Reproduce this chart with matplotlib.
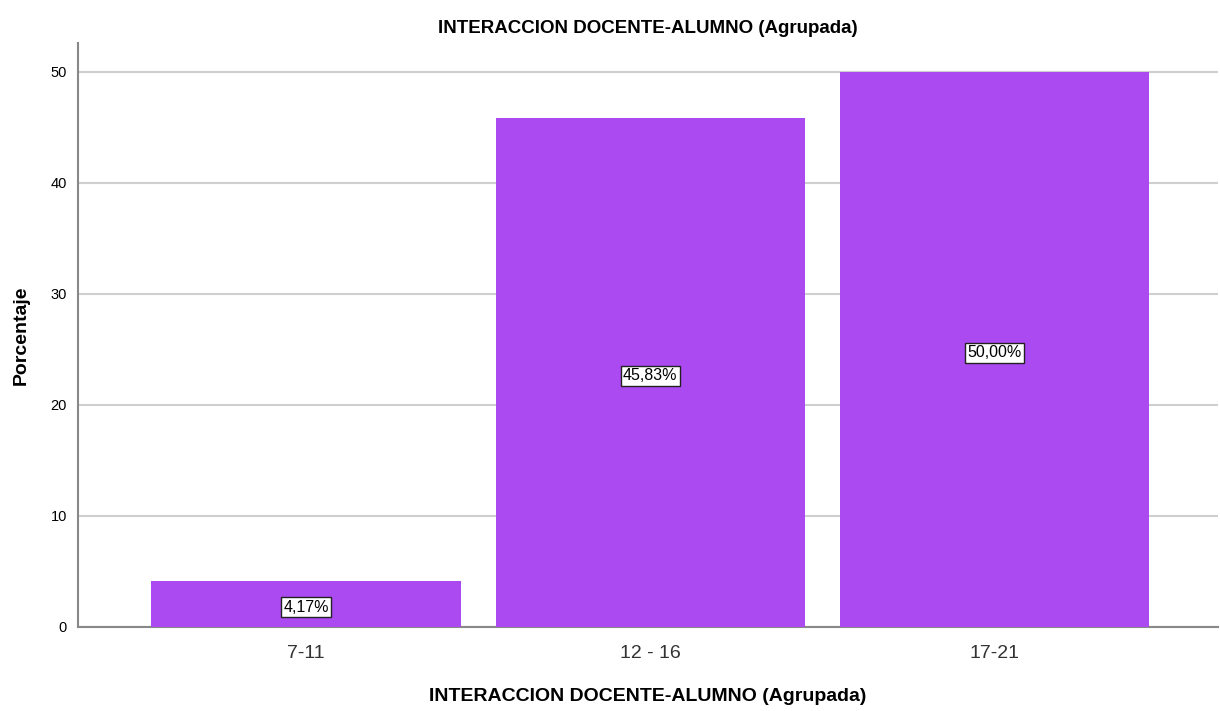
import matplotlib
matplotlib.use("Agg")
import matplotlib.pyplot as plt

categories = ["7-11", "12 - 16", "17-21"]
values = [4.17, 45.83, 50.00]
labels = ["4,17%", "45,83%", "50,00%"]
yticks = [0, 10, 20, 30, 40, 50]

plt.rcParams['font.family'] = ['Liberation Sans', 'DejaVu Sans']

fig = plt.figure(figsize=(12.2, 7.11), dpi=100)
ax = fig.add_axes([78/1220, 1-627/711, (1218-78)/1220, (627-43)/711])

x = list(range(len(categories)))
ax.bar(x, values, width=0.898, color="#AA4AF0", zorder=3)
for xi, v, lab in zip(x, values, labels):
    ax.text(xi, v/2 - 0.3, lab, ha="center", va="center", fontsize=11.5, zorder=4,
            bbox=dict(boxstyle="square,pad=0.15", facecolor="white", edgecolor="#222222", linewidth=1))

ax.set_xlim(-0.662, 2.649)
ax.set_ylim(0, 52.6)
ax.set_yticks(yticks)
ax.set_yticklabels([str(t) for t in yticks], fontsize=10.5)
ax.set_xticks(x)
ax.set_xticklabels(categories, fontsize=14, color="#333333")
ax.yaxis.grid(True, color="#cfcfcf", linewidth=1.5, zorder=0)
ax.tick_params(axis='both', length=0)
ax.tick_params(axis='x', pad=13)
ax.tick_params(axis='y', pad=8)
for s in ["top", "right"]:
    ax.spines[s].set_visible(False)
for s in ["left", "bottom"]:
    ax.spines[s].set_color("#888888")
    ax.spines[s].set_linewidth(1.5)

ax.set_title("INTERACCION DOCENTE-ALUMNO (Agrupada)", fontsize=13.5, fontweight="bold", pad=7)
ax.set_xlabel("INTERACCION DOCENTE-ALUMNO (Agrupada)", fontsize=14, fontweight="bold", labelpad=19)
ax.set_ylabel("Porcentaje", fontsize=14, fontweight="bold", labelpad=15)

fig.savefig("out.png", dpi=100)
